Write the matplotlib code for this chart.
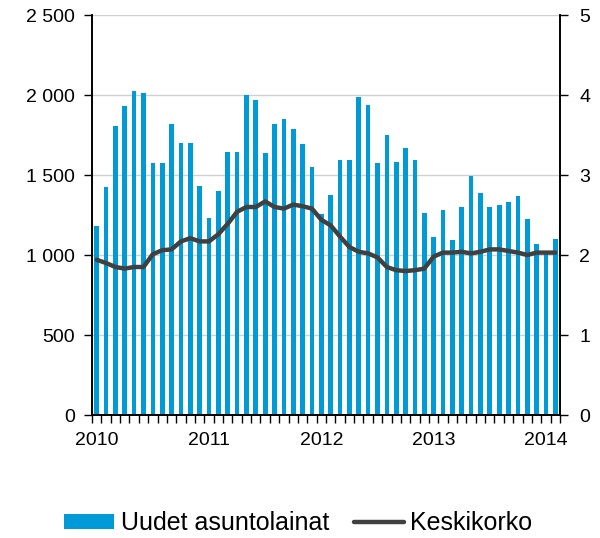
import matplotlib
matplotlib.use("Agg")
import matplotlib.pyplot as plt
from matplotlib.ticker import FuncFormatter, FixedLocator
import numpy as np

plt.rcParams['font.family'] = ['Liberation Sans', 'DejaVu Sans']

# Monthly data Jan 2010 - Feb 2014
loans = [1181, 1425, 1806, 1931, 2025, 2015, 1573, 1573, 1819, 1698, 1698, 1429,
         1231, 1398, 1644, 1644, 1998, 1967, 1637, 1819, 1848, 1787, 1694, 1548,
         1254, 1375, 1594, 1594, 1990, 1938, 1573, 1750, 1583, 1669, 1594, 1265,
         1110, 1283, 1092, 1300, 1492, 1388, 1298, 1313, 1333, 1369, 1223, 1069,
         1010, 1098]
rate = [1.94, 1.90, 1.85, 1.83, 1.85, 1.85, 2.01, 2.06, 2.07, 2.17, 2.21, 2.17,
        2.17, 2.26, 2.39, 2.54, 2.60, 2.60, 2.67, 2.60, 2.58, 2.63, 2.61, 2.58,
        2.44, 2.37, 2.23, 2.10, 2.04, 2.02, 1.97, 1.85, 1.81, 1.80, 1.81, 1.83,
        1.98, 2.03, 2.03, 2.04, 2.02, 2.04, 2.07, 2.07, 2.05, 2.03, 2.00, 2.03,
        2.03, 2.03]
year_labels = ['2010', '2011', '2012', '2013', '2014']

BLUE = '#009AD6'
GRAY = '#404040'

fig = plt.figure(figsize=(6.0, 5.38), dpi=100)
ax = fig.add_axes([92/600, 1-415/538, (560-92)/600, 400/538])
ax2 = ax.twinx()

n = len(loans)
x = np.arange(n) + 0.5
ax.bar(x, loans, width=0.5, color=BLUE, zorder=2, label='Uudet asuntolainat')
ax2.plot(x, rate, color=GRAY, lw=3.2, solid_capstyle='round', label='Keskikorko', zorder=3)

ax.set_xlim(0, n)
ax.set_ylim(0, 2500)
ax2.set_ylim(0, 5)
ax.set_yticks(np.arange(0, 2501, 500))
ax2.set_yticks(np.arange(0, 6, 1))
ax.yaxis.set_major_formatter(FuncFormatter(lambda v, p: f"{int(v):,}".replace(',', ' ')))
ax.grid(axis='y', color='#d0d0d0', lw=1, zorder=0)
ax.set_axisbelow(True)

ax.xaxis.set_minor_locator(FixedLocator(np.arange(0, n + 1)))
ax.set_xticks([0.5 + 12 * i for i in range(len(year_labels))])
ax.set_xticklabels(year_labels)
ax.tick_params(axis='x', which='major', length=0, pad=12, labelsize=14)
ax.tick_params(axis='x', which='minor', length=6, width=1, direction='out')
ax.tick_params(axis='y', length=6, width=1, labelsize=14, pad=6)
ax2.tick_params(axis='y', length=6, width=1, labelsize=14, pad=8)

for a in (ax, ax2):
    a.spines['top'].set_visible(False)
    for s in ('left', 'right', 'bottom'):
        a.spines[s].set_linewidth(1.2)

h1, l1 = ax.get_legend_handles_labels()
h2, l2 = ax2.get_legend_handles_labels()
fig.legend(h1 + h2, l1 + l2, loc='center', bbox_to_anchor=(0.497, 1-523/538), ncol=2,
           frameon=False, fontsize=18, handlelength=2.0, handleheight=0.55,
           handletextpad=0.25, columnspacing=1.0)

fig.savefig('out.png', dpi=100)
